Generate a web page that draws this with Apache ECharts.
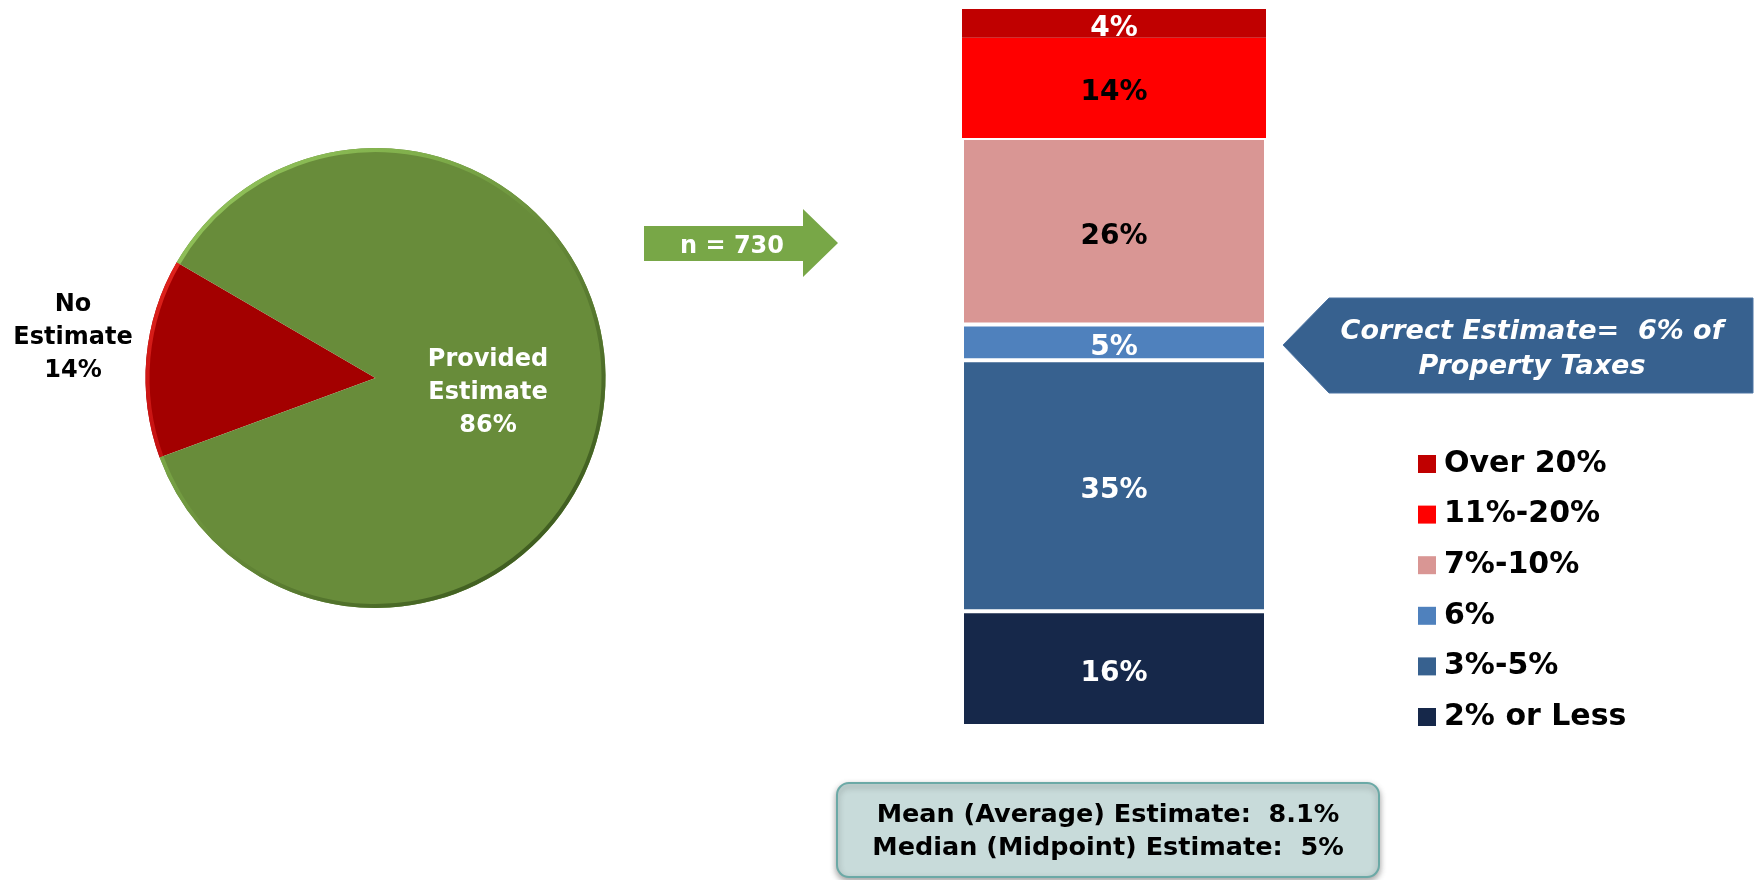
<!DOCTYPE html>
<html>
<head>
<meta charset="utf-8">
<script src="https://cdn.jsdelivr.net/npm/echarts@6/dist/echarts.min.js"></script>
<style>
  html, body { margin: 0; padding: 0; background: #ffffff; }
  #main { width: 1756px; height: 880px; }
</style>
</head>
<body>
<div id="main"></div>
<script>
// Who gave an estimate at all
const pieNames = ['No Estimate', 'Provided Estimate'];
const pieValues = [14, 86];

// Estimated share of property taxes, stacked from the bottom up
const bandNames = ['2% or Less', '3%-5%', '6%', '7%-10%', '11%-20%', 'Over 20%'];
const bandValues = [16, 35, 5, 26, 14, 4];

const sampleSize = 730;
const correctEstimate = 6;
const meanEstimate = 8.1;
const medianEstimate = 5;

// ---- styling ----
const bold = { fontFamily: 'DejaVu Sans', fontWeight: 'bold' };
const pieCenter = [375.5, 378];
const pieRadius = 230;
const pieColors = ['#A30000', '#688C3A'];
const pieLabelColors = ['#000000', '#ffffff'];
const pieLabelAnchors = [[73, 338], [488, 393]];
// bevelled rim: bright red on the small slice, light-to-dark green on the large one
const pieRimColors = [
  new echarts.graphic.LinearGradient(0, 0, 0, 1, [
    { offset: 0, color: '#E0231C' }, { offset: 1, color: '#C41010' }
  ]),
  new echarts.graphic.LinearGradient(0, 0, 1, 1, [
    { offset: 0, color: '#9ACB62' }, { offset: 0.3, color: '#7FAE4A' },
    { offset: 0.5, color: '#688C3A' }, { offset: 0.75, color: '#4C6C28' },
    { offset: 1, color: '#2F4A17' }
  ])
];

const bandColors = ['#16284A', '#37618F', '#4F81BD', '#D99694', '#FF0000', '#C00000'];
const bandLabelColors = ['#ffffff', '#ffffff', '#ffffff', '#000000', '#000000', '#ffffff'];

const pieData = pieNames.map((n, i) => ({
  name: n, value: pieValues[i],
  itemStyle: { color: pieColors[i] },
  label: { color: pieLabelColors[i] }
}));
const rimData = pieNames.map((n, i) => ({
  name: n, value: pieValues[i],
  itemStyle: { color: pieRimColors[i] }
}));

const barSeries = bandNames.map((name, i) => ({
  type: 'bar',
  name: name,
  stack: 'share',
  barWidth: '100%',
  data: [bandValues[i]],
  itemStyle: { color: bandColors[i], borderColor: '#ffffff', borderWidth: i < 4 ? 2 : 0 },
  label: Object.assign({
    show: true, position: 'inside', formatter: '{c}%', offset: [0, 5],
    color: bandLabelColors[i], fontSize: 28
  }, bold),
  emphasis: { disabled: true }
}));

const chart = echarts.init(document.getElementById('main'));
chart.setOption({
  animation: false,
  backgroundColor: '#ffffff',
  grid: { left: 962, top: 9, width: 304, height: 717 },
  xAxis: { type: 'category', data: ['Estimate'], show: false },
  yAxis: { type: 'value', min: 0, max: 100, show: false },
  legend: {
    data: bandNames.slice().reverse(),
    orient: 'vertical',
    left: 1418, top: 449, padding: 0,
    itemWidth: 18, itemHeight: 18, itemGap: 20.6,
    icon: 'rect',
    selectedMode: false,
    itemStyle: { borderWidth: 0 },
    textStyle: Object.assign({ fontSize: 30, lineHeight: 30, color: '#000000', padding: [0, 0, 0, 3] }, bold)
  },
  series: [
    {
      type: 'pie',
      name: 'estimate given',
      center: pieCenter,
      radius: pieRadius,
      startAngle: 200.2,
      clockwise: true,
      avoidLabelOverlap: false,
      emphasis: { disabled: true },
      labelLine: { show: false },
      data: pieData,
      label: Object.assign({
        show: true,
        formatter: p => p.name.replace(' ', '\n') + '\n' + p.value + '%',
        fontSize: 24, lineHeight: 33, align: 'center'
      }, bold),
      labelLayout: p => ({
        x: pieLabelAnchors[p.dataIndex][0],
        y: pieLabelAnchors[p.dataIndex][1],
        align: 'center', verticalAlign: 'middle'
      })
    },
    {
      type: 'pie',
      name: 'rim',
      z: 3,
      center: pieCenter,
      radius: [pieRadius - 4, pieRadius],
      startAngle: 200.2,
      clockwise: true,
      silent: true,
      emphasis: { disabled: true },
      label: { show: false },
      labelLine: { show: false },
      data: rimData
    }
  ].concat(barSeries),
  graphic: [
    {
      type: 'polygon',
      shape: { points: [[644, 226], [803, 226], [803, 209], [838, 243], [803, 277], [803, 261], [644, 261]] },
      style: { fill: '#78A747' }
    },
    {
      type: 'text', x: 732, y: 247,
      style: Object.assign({ text: 'n = ' + sampleSize, fill: '#ffffff', fontSize: 24,
        align: 'center', verticalAlign: 'middle' }, bold)
    },
    {
      type: 'polygon',
      shape: { points: [[1283, 345], [1329, 298], [1753, 298], [1753, 393], [1329, 393]] },
      style: { fill: '#37618F', stroke: '#4d74a3', lineWidth: 1 }
    },
    {
      type: 'text', x: 1532, y: 349.5,
      style: Object.assign({
        text: 'Correct Estimate=  ' + correctEstimate + '% of\nProperty Taxes',
        fill: '#ffffff', fontSize: 27, fontStyle: 'italic', lineHeight: 35,
        align: 'center', verticalAlign: 'middle'
      }, bold)
    },
    {
      type: 'rect',
      shape: { x: 837, y: 783, width: 542, height: 94, r: 12 },
      style: { fill: '#C8DBDA', stroke: '#6BA9A6', lineWidth: 2,
        shadowBlur: 6, shadowColor: 'rgba(0,0,0,0.35)', shadowOffsetY: 3 }
    },
    {
      type: 'text', x: 1108, y: 832,
      style: Object.assign({
        text: 'Mean (Average) Estimate:  ' + meanEstimate + '%\nMedian (Midpoint) Estimate:  ' + medianEstimate + '%',
        fill: '#000000', fontSize: 25.5, lineHeight: 33,
        align: 'center', verticalAlign: 'middle'
      }, bold)
    }
  ]
});
</script>
</body>
</html>
